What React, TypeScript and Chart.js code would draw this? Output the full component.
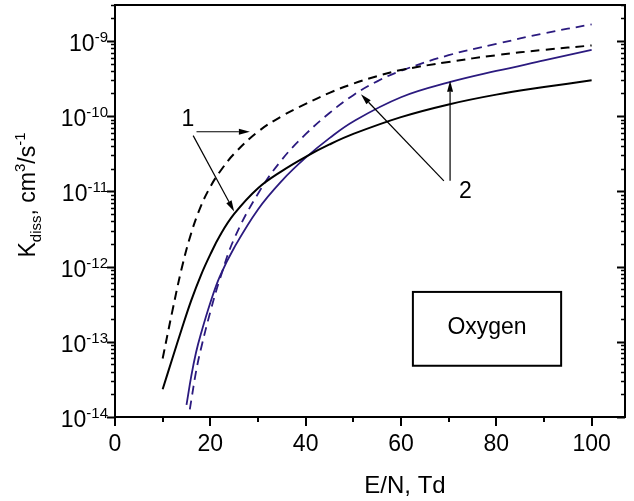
import React, { useEffect, useRef } from 'react';
import { Chart, registerables } from 'chart.js';
Chart.register(...registerables);

// E/N (Td) and K_diss (cm^3/s)
const xBlackSolid = [10, 12, 14, 16, 18, 20, 22, 25, 30, 35, 40, 45, 50, 60, 70, 80, 90, 100];
const yBlackSolid = [2.34e-14, 5.9e-14, 1.48e-13, 3.55e-13, 7.6e-13, 1.45e-12, 2.57e-12, 5.0e-12, 1.1e-11, 1.86e-11, 2.88e-11, 4.2e-11, 5.8e-11, 9.7e-11, 1.43e-10, 1.93e-10, 2.43e-10, 2.99e-10];

const xBlackDash = [10, 12, 14, 16, 18, 20, 22, 25, 30, 35, 40, 45, 50, 55, 60, 70, 80, 90, 100];
const yBlackDash = [6.0e-14, 2.5e-13, 9.5e-13, 2.8e-12, 6.3e-12, 1.15e-11, 1.82e-11, 3.16e-11, 6.2e-11, 1.0e-10, 1.45e-10, 2.04e-10, 2.7e-10, 3.4e-10, 4.1e-10, 5.25e-10, 6.45e-10, 7.6e-10, 8.7e-10];

const xBlueSolid = [15, 16, 17, 18, 20, 22, 25, 30, 35, 40, 45, 50, 60, 70, 80, 90, 100];
const yBlueSolid = [1.45e-14, 3.5e-14, 7.2e-14, 1.26e-13, 3.3e-13, 7.4e-13, 1.78e-12, 5.75e-12, 1.38e-11, 2.8e-11, 5.1e-11, 8.5e-11, 1.78e-10, 2.8e-10, 3.98e-10, 5.5e-10, 7.6e-10];

const xBlueDash = [15.7, 16, 17, 18, 20, 22, 25, 30, 35, 40, 45, 50, 55, 60, 70, 80, 90, 100];
const yBlueDash = [1.26e-14, 1.66e-14, 4.0e-14, 7.9e-14, 2.5e-13, 6.8e-13, 2.34e-12, 9.3e-12, 2.63e-11, 5.75e-11, 1.1e-10, 1.9e-10, 2.9e-10, 4.0e-10, 6.45e-10, 9.1e-10, 1.26e-9, 1.66e-9];

// axis ranges and ticks
const xMin = 0;
const xMax = 107;
const xMajorTicks = [0, 20, 40, 60, 80, 100];
const xMinorTicks = [10, 30, 50, 70, 90];
const yMin = 1e-14;
const yMax = 3e-9;
const yDecades = [-14, -13, -12, -11, -10, -9];

// annotations (data units)
const noteLabels = ['1', '2'];
const noteX = [15.3, 73.5];
const noteY = [9.1e-11, 9.8e-12];
const arrowFromX = [17.1, 16.4, 69.0, 70.3];
const arrowFromY = [6.2e-11, 5.5e-11, 1.38e-11, 1.38e-11];
const arrowToX = [28.3, 25.0, 51.6, 70.3];
const arrowToY = [6.2e-11, 5.4e-12, 1.95e-10, 2.95e-10];
const boxLabel = 'Oxygen';
const boxX = [62.5, 93.6];
const boxY = [4.6e-13, 4.8e-14];

const FONT = '"Liberation Sans", Arial, Helvetica, sans-serif';
const BLUE = '#2b1a7f';

const pts = (xs: number[], ys: number[]) => xs.map((x, i) => ({ x, y: ys[i] }));

const framePlugin = {
  id: 'frame',
  afterDraw(chart: any) {
    const { ctx, chartArea: a, scales } = chart;
    const x = scales.x;
    const y = scales.y;
    ctx.save();
    ctx.strokeStyle = '#000';
    ctx.fillStyle = '#000';
    ctx.lineCap = 'butt';

    // frame
    ctx.lineWidth = 2;
    ctx.strokeRect(a.left, a.top, a.right - a.left, a.bottom - a.top);

    // y ticks (left outward, right inward)
    for (const k of yDecades) {
      for (let m = 1; m <= 9; m++) {
        const v = m * Math.pow(10, k);
        if (v > yMax * 1.0001) break;
        const py = Math.round(y.getPixelForValue(v)) + 0.5;
        const len = m === 1 ? 8 : 4;
        ctx.lineWidth = m === 1 ? 2 : 1.5;
        ctx.beginPath();
        ctx.moveTo(a.left, py);
        ctx.lineTo(a.left - len, py);
        ctx.moveTo(a.right, py);
        ctx.lineTo(a.right - len, py);
        ctx.stroke();
      }
    }
    // x ticks
    ctx.lineWidth = 2;
    for (const v of xMajorTicks) {
      const px = Math.round(x.getPixelForValue(v));
      ctx.beginPath();
      ctx.moveTo(px, a.bottom);
      ctx.lineTo(px, a.bottom + 9);
      ctx.stroke();
    }
    for (const v of xMinorTicks) {
      const px = Math.round(x.getPixelForValue(v));
      ctx.beginPath();
      ctx.moveTo(px, a.bottom);
      ctx.lineTo(px, a.bottom + 5);
      ctx.stroke();
    }

    // y tick labels 10^k
    ctx.textBaseline = 'alphabetic';
    ctx.textAlign = 'left';
    const right = 108;
    for (const k of yDecades) {
      const py = y.getPixelForValue(Math.pow(10, k));
      const sup = '-' + String(-k);
      ctx.font = `15px ${FONT}`;
      const sw = ctx.measureText(sup).width;
      ctx.font = `23px ${FONT}`;
      const mw = ctx.measureText('10').width;
      ctx.fillText('10', right - sw - mw, py + 10);
      ctx.font = `15px ${FONT}`;
      ctx.fillText(sup, right - sw, py + 1);
    }

    // y title
    const parts = [
      { t: 'K', s: 23, dy: 0 },
      { t: 'diss', s: 15, dy: 6 },
      { t: ', cm', s: 23, dy: 0 },
      { t: '3', s: 15, dy: -10 },
      { t: '/s', s: 23, dy: 0 },
      { t: '-1', s: 15, dy: -10 },
    ];
    let total = 0;
    const widths = parts.map((p) => {
      ctx.font = `${p.s}px ${FONT}`;
      const w = ctx.measureText(p.t).width;
      total += w;
      return w;
    });
    ctx.save();
    ctx.translate(35, 195 + total / 2);
    ctx.rotate(-Math.PI / 2);
    let off = 0;
    parts.forEach((p, i) => {
      ctx.font = `${p.s}px ${FONT}`;
      ctx.fillText(p.t, off, p.dy);
      off += widths[i];
    });
    ctx.restore();

    // x title
    ctx.font = `24px ${FONT}`;
    ctx.textAlign = 'center';
    ctx.fillText('E/N, Td', 405, 493);

    // annotation labels
    ctx.textBaseline = 'middle';
    ctx.font = `23px ${FONT}`;
    noteLabels.forEach((t, i) => {
      ctx.fillText(t, x.getPixelForValue(noteX[i]), y.getPixelForValue(noteY[i]));
    });

    // arrows
    arrowFromX.forEach((fx, i) => {
      const x1 = x.getPixelForValue(fx);
      const y1 = y.getPixelForValue(arrowFromY[i]);
      const x2 = x.getPixelForValue(arrowToX[i]);
      const y2 = y.getPixelForValue(arrowToY[i]);
      const ang = Math.atan2(y2 - y1, x2 - x1);
      const hl = 11;
      const hw = 3;
      const bx = x2 - hl * Math.cos(ang);
      const by = y2 - hl * Math.sin(ang);
      ctx.lineWidth = 1.2;
      ctx.beginPath();
      ctx.moveTo(x1, y1);
      ctx.lineTo(bx, by);
      ctx.stroke();
      ctx.beginPath();
      ctx.moveTo(x2, y2);
      ctx.lineTo(bx + hw * Math.sin(ang), by - hw * Math.cos(ang));
      ctx.lineTo(bx - hw * Math.sin(ang), by + hw * Math.cos(ang));
      ctx.closePath();
      ctx.fill();
    });

    // Oxygen box
    const bx1 = x.getPixelForValue(boxX[0]);
    const bx2 = x.getPixelForValue(boxX[1]);
    const by1 = y.getPixelForValue(boxY[0]);
    const by2 = y.getPixelForValue(boxY[1]);
    ctx.fillStyle = '#fff';
    ctx.fillRect(bx1, by1, bx2 - bx1, by2 - by1);
    ctx.fillStyle = '#000';
    ctx.lineWidth = 2;
    ctx.strokeRect(bx1, by1, bx2 - bx1, by2 - by1);
    ctx.font = `23px ${FONT}`;
    ctx.fillText(boxLabel, (bx1 + bx2) / 2, (by1 + by2) / 2 - 1);

    ctx.restore();
  },
};

export default function App() {
  const ref = useRef<HTMLCanvasElement>(null);
  useEffect(() => {
    const canvas = ref.current;
    if (!canvas) return;
    const common = { pointRadius: 0, fill: false, tension: 0.4 };
    const chart = new Chart(canvas, {
      type: 'line',
      data: {
        datasets: [
          { label: 'black solid', data: pts(xBlackSolid, yBlackSolid), borderColor: '#000', borderWidth: 2, ...common },
          { label: 'black dashed', data: pts(xBlackDash, yBlackDash), borderColor: '#000', borderWidth: 2, borderDash: [9, 6], ...common },
          { label: 'blue solid', data: pts(xBlueSolid, yBlueSolid), borderColor: BLUE, borderWidth: 1.8, ...common },
          { label: 'blue dashed', data: pts(xBlueDash, yBlueDash), borderColor: BLUE, borderWidth: 1.8, borderDash: [9, 6], ...common },
        ],
      },
      options: {
        responsive: false,
        animation: false,
        devicePixelRatio: 1,
        layout: { padding: { left: 115, right: 9, top: 5, bottom: 0 } },
        plugins: { legend: { display: false }, tooltip: { enabled: false }, title: { display: false } },
        scales: {
          x: {
            type: 'linear',
            min: xMin,
            max: xMax,
            grid: { display: false, drawTicks: false },
            border: { display: false },
            ticks: {
              stepSize: 20,
              includeBounds: false,
              padding: 14,
              color: '#000',
              maxRotation: 0,
              autoSkip: false,
              font: { family: FONT, size: 23 },
            },
            afterFit: (s: any) => {
              s.height = 84;
            },
          },
          y: { type: 'logarithmic', min: yMin, max: yMax, display: false },
        },
      },
      plugins: [framePlugin],
    } as any);
    return () => chart.destroy();
  }, []);
  return (
    <div style={{ position: 'fixed', left: 0, top: 0, width: 634, height: 501, background: '#fff' }}>
      <canvas ref={ref} width={634} height={501} style={{ display: 'block' }} />
    </div>
  );
}
